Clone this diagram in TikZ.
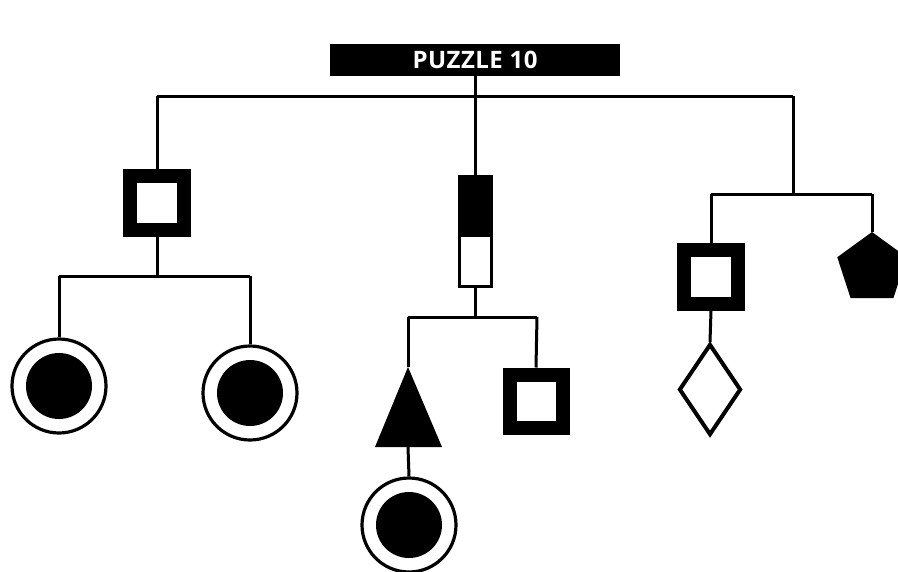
\documentclass[tikz,border=0pt]{standalone}
\usepackage{fontspec}
\newfontfamily\titlefont{Open Sans}[LetterSpace=2]
\usetikzlibrary{shapes.geometric}
\begin{document}
\begin{tikzpicture}[x=1pt,y=-1pt,
  conn/.style={line width=3pt},
  thicksq/.style={draw, line width=14pt, minimum size=54pt, inner sep=0pt, fill=white},
  ring/.style={circle, draw, line width=3.2pt, minimum size=94pt, inner sep=0pt, fill=white},
  dot/.style={circle, fill=black, minimum size=66pt, inner sep=0pt},
]
\useasboundingbox (0,0) rectangle (898,571);
\clip (0,0) rectangle (898,571);
\fill[white] (0,0) rectangle (898,571);

% title
\node[fill=black, minimum width=290pt, minimum height=32pt, inner sep=0pt, text=white,
      font=\titlefont\bfseries\fontsize{24}{24}\selectfont] (title) at (475,60) {PUZZLE 10};

% top bar
\coordinate (topL) at (157,96);
\coordinate (topR) at (793,96);
\draw[conn] (topL) -- (topR);

% left branch
\node[thicksq] (sqL) at (157,202.5) {};
\draw[conn] (topL) -- (sqL.north);
\coordinate (jL) at (157,276);
\coordinate (jLa) at (59,276);
\coordinate (jLb) at (250,276);
\node[ring] (c1) at (59,386) {};
\node[dot] at (c1.center) {};
\node[ring] (c2) at (250,393) {};
\node[dot] at (c2.center) {};
\draw[conn] (sqL.south) -- (jL);
\draw[conn] (jLa) -- (jLb);
\draw[conn] (jLa) -- (c1.north);
\draw[conn] (jLb) -- (c2.north);

% middle branch
\node[draw, line width=3pt, minimum width=32pt, minimum height=110pt, inner sep=0pt,
      path picture={\fill[black] (path picture bounding box.north west) rectangle ([yshift=-5.5pt]path picture bounding box.east);}]
      (mid) at (475,231.5) {};
\draw[conn] (title.south) -- (mid.north);
\coordinate (jM) at (475,317);
\coordinate (jMa) at (408,317);
\coordinate (jMb) at (537,317);
\draw[conn] (mid.south) -- (jM);
\draw[conn] (jMa) -- (jMb);
\coordinate (triTop) at (408,367);
\coordinate (triBL) at (375,447);
\coordinate (triBR) at (442,447);
\coordinate (triBot) at (408,447);
\fill[black] (triTop) -- (triBL) -- (triBR) -- cycle;
\draw[conn] (jMa) -- (triTop);
\node[thicksq, minimum size=53pt] (sqM) at (536,401) {};
\draw[conn] (jMb) -- (sqM.north);
\node[ring] (c3) at (409,525) {};
\node[dot] at (c3.center) {};
\draw[conn] (triBot) -- (c3.north);

% right branch
\coordinate (jR) at (793,194);
\coordinate (jRa) at (711,194);
\coordinate (jRb) at (872,194);
\draw[conn] (topR) -- (jR);
\draw[conn] (jRa) -- (jRb);
\node[thicksq] (sqR) at (711,277) {};
\draw[conn] (jRa) -- (sqR.north);
\node[regular polygon, regular polygon sides=5, minimum size=73pt, inner sep=0pt, fill=black] (pent) at (872,268.5) {};
\draw[conn] (jRb) -- (pent.corner 1);
\node[diamond, draw, line width=4pt, minimum width=62pt, minimum height=91pt, inner sep=0pt, fill=white] (dia) at (710,389.5) {};
\draw[conn] (sqR.south) -- (dia.north);
\end{tikzpicture}
\end{document}
